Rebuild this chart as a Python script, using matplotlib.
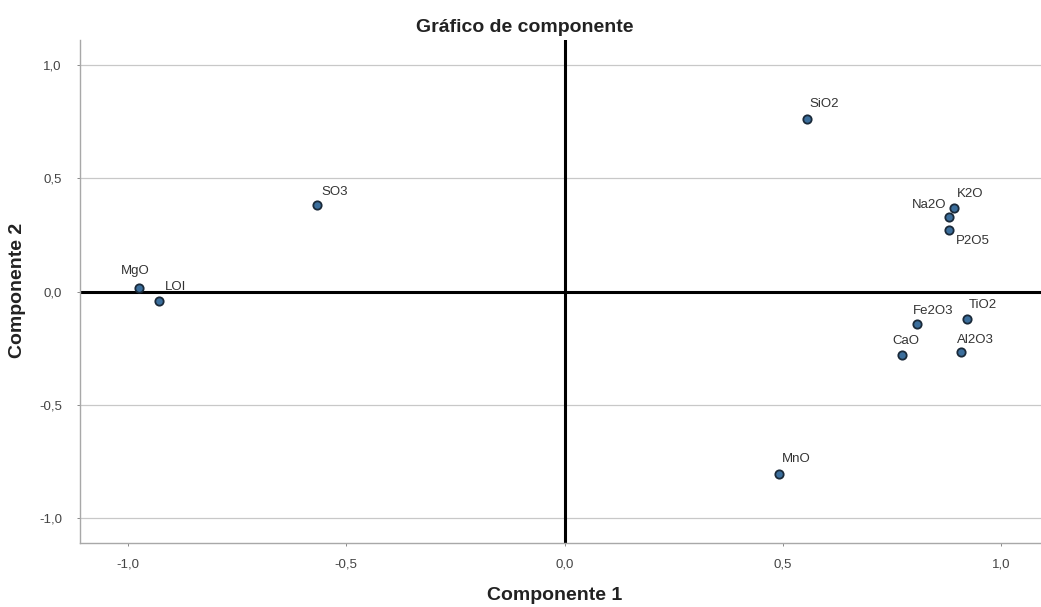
import matplotlib
matplotlib.use("Agg")
import matplotlib.pyplot as plt
from matplotlib.ticker import FuncFormatter

plt.rcParams['font.family'] = ['Liberation Sans', 'DejaVu Sans']

# Component loadings
variables = ["SiO2", "SO3", "MgO", "LOI", "K2O", "Na2O", "P2O5",
             "Fe2O3", "TiO2", "CaO", "Al2O3", "MnO"]
comp1 = [0.555, -0.567, -0.975, -0.929, 0.892, 0.881, 0.881,
         0.807, 0.922, 0.773, 0.908, 0.491]
comp2 = [0.758, 0.379, 0.015, -0.042, 0.370, 0.327, 0.270,
         -0.143, -0.121, -0.280, -0.267, -0.805]
tick_values = [-1.0, -0.5, 0.0, 0.5, 1.0]

# label placement (offset in points, horizontal alignment)
label_pos = {
    "SiO2": ((2, 11), "left"), "SO3": ((3, 10), "left"),
    "MgO": ((-3, 12), "center"), "LOI": ((4, 10), "left"),
    "K2O": ((2, 10), "left"), "Na2O": ((-2, 9), "right"),
    "P2O5": ((5, -8), "left"), "Fe2O3": ((-3, 9), "left"),
    "TiO2": ((1, 10), "left"), "CaO": ((-7, 10), "left"),
    "Al2O3": ((-3, 9), "left"), "MnO": ((2, 11), "left"),
}

W, H = 1041, 607
fig = plt.figure(figsize=(W / 100, H / 100), dpi=100)
left_px, right_px, top_px, bot_px = 80, 1049, 40, 543
ax = fig.add_axes([left_px / W, 1 - bot_px / H,
                   (right_px - left_px) / W, (bot_px - top_px) / H])
ax.set_xlim(-1.11, 1.11)
ax.set_ylim(-1.108, 1.108)

ax.set_yticks(tick_values)
ax.set_xticks(tick_values)
fmt = FuncFormatter(lambda v, p: f"{v:.1f}".replace(".", ",").replace("-0,0", "0,0"))
ax.xaxis.set_major_formatter(fmt)
ax.yaxis.set_major_formatter(fmt)
ax.tick_params(axis="both", labelsize=9.5, colors="#777777", length=2,
               width=0.6, labelcolor="#444444")
ax.tick_params(axis="x", pad=9)
ax.tick_params(axis="y", pad=11)

ax.grid(axis="y", color="#c8c8c8", linewidth=0.9)
ax.set_axisbelow(True)
for s in ["top", "right"]:
    ax.spines[s].set_visible(False)
for s in ["left", "bottom"]:
    ax.spines[s].set_color("#a8a8a8")
    ax.spines[s].set_linewidth(1.0)

ax.axhline(0, color="black", linewidth=2.2, zorder=2)
ax.axvline(0, color="black", linewidth=2.2, zorder=2)

ax.plot(comp1, comp2, linestyle="none", marker="o", markersize=6,
        markerfacecolor="#3b6e9c", markeredgecolor="#1a2a3a",
        markeredgewidth=1.3, zorder=3)

for name, x, y in zip(variables, comp1, comp2):
    off, ha = label_pos[name]
    ax.annotate(name, (x, y), xytext=off, textcoords="offset points",
                ha=ha, va="center", fontsize=9.5, color="#333333", zorder=4)

fig.text(525 / W, 1 - 28 / H, "Gráfico de componente", ha="center",
         va="center", fontsize=14, fontweight="bold", color="#222222")
fig.text(555 / W, 1 - 595 / H, "Componente 1", ha="center", va="center",
         fontsize=14, fontweight="bold", color="#222222")
fig.text(18 / W, 1 - 290 / H, "Componente 2", ha="center", va="center",
         rotation=90, fontsize=14, fontweight="bold", color="#222222")

fig.savefig("out.png", dpi=100, facecolor="white")
